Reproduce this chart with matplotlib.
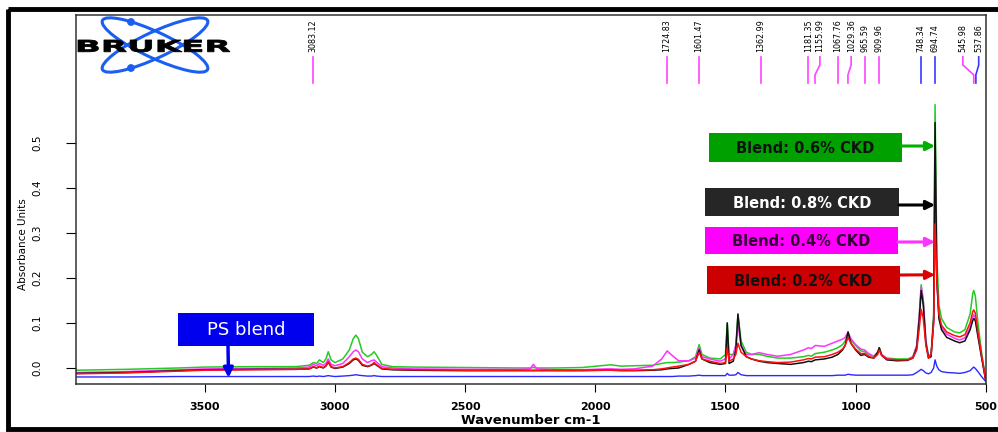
import numpy as np
import matplotlib
matplotlib.use("Agg")
import matplotlib.pyplot as plt
from matplotlib.patches import Rectangle, Ellipse, Circle, PathPatch
from matplotlib.textpath import TextPath
from matplotlib.font_manager import FontProperties
from matplotlib.transforms import Affine2D

# wavenumber grid (cm-1) shared by all spectra
wn = [3995, 3800, 3600, 3500, 3300, 3150, 3100, 3083, 3070, 3060,
      3045, 3035, 3026, 3015, 3000, 2970, 2945, 2930, 2920, 2910,
      2895, 2875, 2860, 2850, 2840, 2820, 2780, 2700, 2500, 2300,
      2250, 2238, 2225, 2150, 2050, 1960, 1940, 1900, 1850, 1780,
      1745, 1724, 1705, 1680, 1640, 1615, 1601, 1590, 1560, 1520,
      1500, 1493, 1486, 1470, 1460, 1452, 1440, 1420, 1400, 1370,
      1340, 1300, 1250, 1200, 1181, 1170, 1155, 1120, 1090, 1068,
      1050, 1040, 1029, 1018, 1000, 980, 965, 950, 930, 915,
      909, 900, 880, 840, 800, 780, 765, 755, 748, 740,
      730, 720, 710, 700, 694.7, 688, 680, 670, 650, 620,
      600, 580, 560, 550, 546, 540, 530, 515, 500]

# absorbance
ckd_06 = [-0.005, -0.003, 0.000, 0.002, 0.003, 0.003, 0.006, 0.012, 0.010, 0.018,
          0.012, 0.020, 0.036, 0.018, 0.012, 0.020, 0.040, 0.065, 0.073, 0.065,
          0.035, 0.025, 0.030, 0.036, 0.028, 0.008, 0.003, 0.002, 0.001, 0.000,
          0.000, 0.001, 0.000, 0.000, 0.001, 0.006, 0.007, 0.004, 0.005, 0.006,
          0.010, 0.012, 0.012, 0.013, 0.016, 0.025, 0.052, 0.030, 0.022, 0.020,
          0.030, 0.100, 0.030, 0.030, 0.050, 0.118, 0.060, 0.035, 0.030, 0.030,
          0.026, 0.022, 0.022, 0.025, 0.028, 0.026, 0.032, 0.035, 0.040, 0.045,
          0.052, 0.060, 0.075, 0.062, 0.050, 0.038, 0.036, 0.030, 0.026, 0.035,
          0.045, 0.030, 0.022, 0.020, 0.020, 0.025, 0.050, 0.120, 0.185, 0.150,
          0.060, 0.028, 0.030, 0.120, 0.585, 0.250, 0.140, 0.110, 0.090, 0.080,
          0.078, 0.085, 0.120, 0.165, 0.172, 0.160, 0.100, 0.030, -0.025]

ckd_08 = [-0.012, -0.010, -0.006, -0.004, -0.003, -0.003, -0.002, 0.002, 0.000, 0.003,
          0.000, 0.004, 0.013, 0.002, -0.001, 0.002, 0.010, 0.018, 0.020, 0.017,
          0.006, 0.003, 0.006, 0.010, 0.006, -0.002, -0.004, -0.005, -0.006, -0.006,
          -0.006, -0.006, -0.006, -0.006, -0.006, -0.005, -0.005, -0.006, -0.006, -0.005,
          -0.004, -0.002, -0.001, 0.000, 0.008, 0.015, 0.040, 0.020, 0.012, 0.008,
          0.010, 0.100, 0.010, 0.015, 0.040, 0.120, 0.050, 0.025, 0.020, 0.015,
          0.012, 0.010, 0.008, 0.012, 0.015, 0.014, 0.018, 0.020, 0.024, 0.030,
          0.040, 0.050, 0.080, 0.055, 0.040, 0.028, 0.030, 0.024, 0.022, 0.035,
          0.045, 0.028, 0.018, 0.016, 0.017, 0.022, 0.045, 0.110, 0.172, 0.140,
          0.055, 0.022, 0.025, 0.110, 0.545, 0.200, 0.110, 0.085, 0.068, 0.060,
          0.056, 0.060, 0.085, 0.105, 0.110, 0.105, 0.070, 0.020, -0.028]

ckd_04 = [-0.010, -0.008, -0.004, -0.002, -0.001, 0.000, 0.002, 0.008, 0.005, 0.010,
          0.006, 0.010, 0.020, 0.008, 0.005, 0.010, 0.025, 0.036, 0.040, 0.036,
          0.020, 0.012, 0.016, 0.018, 0.013, 0.003, 0.000, -0.002, -0.003, -0.003,
          -0.002, 0.008, -0.002, -0.004, -0.004, -0.002, -0.002, -0.003, -0.002, 0.004,
          0.020, 0.038, 0.028, 0.016, 0.016, 0.022, 0.045, 0.025, 0.020, 0.015,
          0.020, 0.060, 0.020, 0.030, 0.050, 0.096, 0.050, 0.030, 0.030, 0.034,
          0.030, 0.026, 0.030, 0.040, 0.045, 0.043, 0.050, 0.048, 0.055, 0.060,
          0.064, 0.068, 0.080, 0.065, 0.052, 0.042, 0.040, 0.032, 0.026, 0.034,
          0.042, 0.030, 0.020, 0.018, 0.018, 0.024, 0.050, 0.120, 0.180, 0.150,
          0.060, 0.024, 0.028, 0.100, 0.470, 0.190, 0.115, 0.090, 0.075, 0.066,
          0.062, 0.067, 0.090, 0.113, 0.118, 0.112, 0.075, 0.022, -0.027]

ckd_02 = [-0.013, -0.011, -0.007, -0.005, -0.004, -0.003, -0.002, 0.003, 0.000, 0.004,
          0.001, 0.005, 0.014, 0.003, 0.000, 0.003, 0.012, 0.020, 0.022, 0.019,
          0.008, 0.004, 0.007, 0.012, 0.007, -0.001, -0.003, -0.004, -0.005, -0.005,
          -0.005, -0.005, -0.005, -0.005, -0.005, -0.005, -0.005, -0.005, -0.005, -0.004,
          -0.002, 0.000, 0.002, 0.004, 0.008, 0.015, 0.035, 0.020, 0.015, 0.010,
          0.012, 0.045, 0.015, 0.020, 0.030, 0.055, 0.035, 0.025, 0.020, 0.016,
          0.014, 0.012, 0.013, 0.018, 0.021, 0.020, 0.024, 0.025, 0.030, 0.035,
          0.042, 0.050, 0.068, 0.055, 0.042, 0.032, 0.032, 0.026, 0.022, 0.030,
          0.040, 0.028, 0.020, 0.018, 0.018, 0.022, 0.040, 0.090, 0.130, 0.110,
          0.050, 0.022, 0.030, 0.100, 0.320, 0.200, 0.120, 0.095, 0.080, 0.072,
          0.069, 0.074, 0.100, 0.125, 0.129, 0.122, 0.080, 0.025, -0.026]

ps_blend = [-0.020, -0.020, -0.019, -0.019, -0.019, -0.019, -0.019, -0.018, -0.019, -0.018,
            -0.019, -0.018, -0.017, -0.018, -0.019, -0.018, -0.017, -0.016, -0.015, -0.016,
            -0.017, -0.018, -0.018, -0.017, -0.018, -0.019, -0.019, -0.019, -0.019, -0.019,
            -0.019, -0.019, -0.019, -0.019, -0.019, -0.019, -0.019, -0.019, -0.019, -0.019,
            -0.019, -0.019, -0.019, -0.018, -0.018, -0.017, -0.016, -0.017, -0.017, -0.017,
            -0.017, -0.012, -0.016, -0.016, -0.015, -0.010, -0.015, -0.017, -0.017, -0.017,
            -0.017, -0.017, -0.017, -0.017, -0.017, -0.017, -0.017, -0.017, -0.017, -0.016,
            -0.016, -0.016, -0.014, -0.015, -0.016, -0.016, -0.016, -0.016, -0.016, -0.016,
            -0.016, -0.016, -0.016, -0.016, -0.016, -0.015, -0.010, -0.006, -0.003, -0.006,
            -0.011, -0.013, -0.010, 0.000, 0.018, 0.004, -0.004, -0.008, -0.010, -0.011,
            -0.012, -0.010, -0.006, 0.000, 0.002, -0.001, -0.008, -0.020, -0.030]

# peak picks printed above the spectra
peak_wn = [3083.12, 1724.83, 1601.47, 1362.99, 1181.35, 1155.99, 1067.76,
           1029.36, 965.59, 909.96, 748.34, 694.74, 545.98, 537.86]
label_wn = [3083.12, 1724.83, 1601.47, 1362.99, 1181.35, 1137, 1067.76,
            1017, 965.59, 909.96, 748.34, 694.74, 588, 527]
peak_colors = ["#ff44ff"] * 10 + ["#3838ff", "#3838ff", "#ff44ff", "#3838ff"]

blend_names = ["Blend: 0.6% CKD", "Blend: 0.8% CKD", "Blend: 0.4% CKD", "Blend: 0.2% CKD"]

fig = plt.figure(figsize=(9.98, 4.32), dpi=100)
ax = fig.add_axes([76 / 998, 1 - 384 / 432, 910 / 998, 369 / 432])

ax.plot(wn, ps_blend, color="#2a2aff", lw=1.0)
ax.plot(wn, ckd_06, color="#22cc22", lw=1.1)
ax.plot(wn, ckd_04, color="#ff33ff", lw=1.1)
ax.plot(wn, ckd_08, color="#111111", lw=1.1)
ax.plot(wn, ckd_02, color="#ff1010", lw=1.1)

ax.set_xlim(3995, 499)
ax.set_ylim(-0.0356, 0.784)
ax.set_xticks([3500, 3000, 2500, 2000, 1500, 1000, 500])
ax.set_yticks([0.0, 0.1, 0.2, 0.3, 0.4, 0.5])
ax.set_yticklabels(["0.0", "0.1", "0.2", "0.3", "0.4", "0.5"], rotation=90, va="center")
ax.tick_params(axis="x", direction="out", length=6, width=0.8, pad=7, labelsize=8)
ax.tick_params(axis="y", direction="out", length=7, width=0.8, pad=17, labelsize=7.5)
for lab in ax.get_xticklabels():
    lab.set_fontweight("bold")
for sp in ax.spines.values():
    sp.set_color("#333333")
    sp.set_linewidth(1.1)

ax.set_xlabel("Wavenumber cm-1", fontsize=9.5, fontweight="bold")
ax.xaxis.set_label_coords(0.5, -0.082)
ax.set_ylabel("Absorbance Units", fontsize=7.5)
ax.yaxis.set_label_coords(-0.053, 0.379)

# peak pick markers
for p, lx, c in zip(peak_wn, label_wn, peak_colors):
    ax.plot([lx, lx, p, p], [0.691, 0.673, 0.651, 0.633], color=c, lw=1.2)
    ax.text(lx, 0.702, f"{p:.2f}", rotation=90, ha="center", va="bottom",
            fontsize=5.8, color="black")

# overlay in pixel coordinates for logo, boxes and border
ov = fig.add_axes([0, 0, 1, 1], zorder=5)
ov.set_xlim(0, 998)
ov.set_ylim(432, 0)
ov.axis("off")
ov.patch.set_alpha(0)

ov.add_patch(Rectangle((8, 9), 1000, 420, fill=False, lw=3.5, ec="black"))

# Bruker logo
for ang in (25, -25):
    ov.add_patch(Ellipse((155, 45), 116, 26, angle=ang, fill=False, lw=2.2, ec="#1a5ff0"))
ov.add_patch(Circle((131, 22), 3.2, color="#1a5ff0"))
ov.add_patch(Circle((131, 68), 3.2, color="#1a5ff0"))
tp = TextPath((0, 0), "BRUKER", size=16, prop=FontProperties(family="DejaVu Sans", weight="bold"))
ext = tp.get_extents()
sx = 152 / ext.width
sy = 12 / ext.height
tr = Affine2D().translate(-ext.x0, -ext.y0).scale(sx, -sy).translate(78, 52)
ov.add_patch(PathPatch(tr.transform_path(tp), fc="black", ec="black", lw=0.6))

# blend callouts
box_x = [709, 705, 705, 707]
box_y = [133, 188, 227, 266]
box_w = [193, 194, 193, 193]
box_h = [29, 28, 27, 28]
box_fc = ["#00a000", "#262626", "#ff00ff", "#cc0000"]
box_tc = ["#111111", "white", "#330033", "#111111"]
arrow_c = ["#00b000", "black", "#ff33ff", "#dd0000"]
arrow_y = [0.493, 0.362, 0.28, 0.207]
arrow_py = [146, 205, 242, 275]
for i, name in enumerate(blend_names):
    ov.add_patch(Rectangle((box_x[i], box_y[i]), box_w[i], box_h[i], fc=box_fc[i], ec="none"))
    ov.text(box_x[i] + box_w[i] / 2, box_y[i] + box_h[i] / 2 + 1, name, ha="center", va="center",
            fontsize=10.5, fontweight="bold", color=box_tc[i])
    ov.annotate("", xy=(694.74, arrow_y[i]), xycoords=ax.transData,
                xytext=(box_x[i] + box_w[i], arrow_py[i]), textcoords="data",
                arrowprops=dict(arrowstyle="-|>", lw=2.2, color=arrow_c[i], mutation_scale=13,
                                shrinkA=0, shrinkB=0))

ov.add_patch(Rectangle((178, 313), 136, 33, fc="#0000ee", ec="none"))
ov.text(246, 330, "PS blend", ha="center", va="center", fontsize=13, color="white")
ov.annotate("", xy=(3409, -0.022), xycoords=ax.transData, xytext=(228, 346), textcoords="data",
            arrowprops=dict(arrowstyle="-|>", lw=2.5, color="#0000ee", mutation_scale=14,
                            shrinkA=0, shrinkB=0))

fig.savefig("out.png", dpi=100)
